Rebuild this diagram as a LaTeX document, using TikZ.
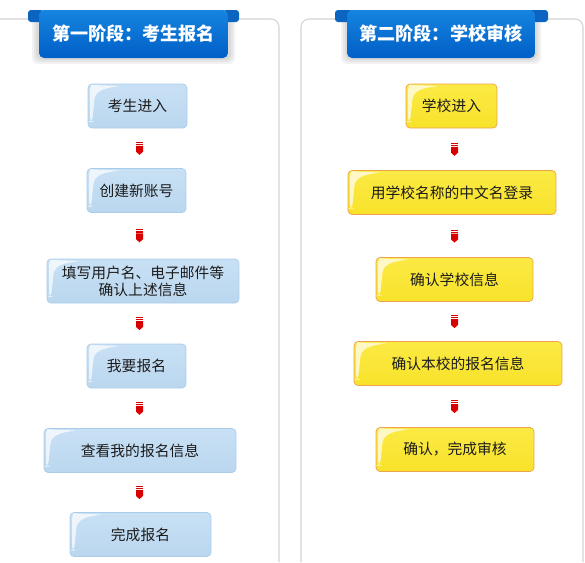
\documentclass[tikz,border=0pt]{standalone}
\usepackage{fontspec}
\newfontfamily\cjk{Noto Sans CJK SC}
\usetikzlibrary{positioning}

\definecolor{panelgray}{HTML}{D2D2D2}
\definecolor{ribbontop}{HTML}{1684E0}
\definecolor{ribbonbot}{HTML}{005FC6}
\definecolor{ribbontab}{HTML}{0A64C0}
\definecolor{bluefill}{HTML}{BAD7EF}
\definecolor{bluefilltop}{HTML}{C8E0F4}
\definecolor{blueline}{HTML}{A9CCEA}
\definecolor{yellowfill}{HTML}{F8E22A}
\definecolor{yellowfilltop}{HTML}{FBEA45}
\definecolor{yellowline}{HTML}{EDA24C}
\definecolor{markred}{HTML}{D80000}
\definecolor{boxtext}{HTML}{1C1C1C}

\tikzset{
    gloss/.style={path picture={
        \coordinate (g) at (path picture bounding box.north west);
        \fill[white, opacity=.7] ([shift={(2,3)}]g)
            .. controls ([shift={(3,1)}]g) .. ([shift={(34,2)}]g)
            .. controls ([shift={(14,4)}]g) and ([shift={(7,8)}]g) .. ([shift={(6,20)}]g)
            -- ([shift={(4,38)}]g) -- ([shift={(2,38)}]g) -- cycle;
    }},
    downmark/.pic={
        \fill[markred] (-3.5,-6.5) rectangle (3.5,-5.3);
        \fill[markred] (-3.5,-4.3) rectangle (3.5,-3.1);
        \fill[markred] (-3.5,-2.3) -- (3.5,-2.3) -- (3.5,3.5) -- (0,6.5) -- (-3.5,3.5) -- cycle;
    }
}

\begin{document}
\begin{tikzpicture}[x=0.02cm, y=-0.02cm,
        bluebox/.style={rectangle, rounded corners=0.08cm, draw=blueline, top color=bluefilltop, bottom color=bluefill,
            minimum height=0.88cm, inner sep=0pt, align=center, text=boxtext,
            font=\cjk\fontsize{8.4}{9.6}\selectfont, gloss},
        yellowbox/.style={rectangle, rounded corners=0.08cm, draw=yellowline, top color=yellowfilltop, bottom color=yellowfill,
            minimum height=0.88cm, inner sep=0pt, align=center, text=boxtext,
            font=\cjk\fontsize{8.4}{9.6}\selectfont, gloss},
        ribbon/.style={rectangle, rounded corners=0.1cm, top color=ribbontop, bottom color=ribbonbot,
            minimum width=3.78cm, minimum height=0.96cm, inner sep=0pt, text=white,
            font=\cjk\bfseries\fontsize{10.3}{12}\selectfont},
        panel/.style={draw=panelgray, line width=0.6pt, rounded corners=0.16cm}
    ]
    \useasboundingbox (0,0) rectangle (585,562);

    % panels
    \draw[panel] (0,19) -- (279,19) -- (279,562);
    \draw[panel] (301,562) -- (301,19) -- (583,19) -- (583,562);

    % ribbon shadows
    \foreach \o in {2,4,6} {
        \fill[black, opacity=.05, rounded corners=0.12cm] (38-\o,14) rectangle (229+\o,58+\o);
        \fill[black, opacity=.05, rounded corners=0.12cm] (347-\o,14) rectangle (535+\o,58+\o);
    }

    % ribbons
    \fill[ribbontab, rounded corners=0.06cm] (28,10) rectangle (44,22);
    \fill[ribbontab, rounded corners=0.06cm] (223,10) rectangle (239,22);
    \fill[ribbontab, rounded corners=0.06cm] (335,10) rectangle (353,22);
    \fill[ribbontab, rounded corners=0.06cm] (529,10) rectangle (548,22);
    \node[ribbon] (stage1) at (133.5,34) {第一阶段：考生报名};
    \node[ribbon, minimum width=3.76cm] (stage2) at (441,34) {第二阶段：学校审核};

    % columns of the red marks
    \coordinate (colL) at (139.5,0);
    \coordinate (colR) at (454.5,0);

    % Left flow - candidate registration
    \node[bluebox, minimum width=1.98cm] (k1) at (137.5,106) {考生进入};
    \node[bluebox, minimum width=1.98cm] (k2) at (136.5,190.5) {创建新账号};
    \node[bluebox, minimum width=3.84cm] (k3) at (143,281) {填写用户名、电子邮件等\\确认上述信息};
    \node[bluebox, minimum width=1.98cm] (k4) at (136.5,366) {我要报名};
    \node[bluebox, minimum width=3.84cm] (k5) at (140,450.5) {查看我的报名信息};
    \node[bluebox, minimum width=2.82cm] (k6) at (140.5,534.5) {完成报名};

    % Right flow - school review
    \node[yellowbox, minimum width=1.82cm] (s1) at (451.5,106) {学校进入};
    \node[yellowbox, minimum width=4.16cm] (s2) at (452,192.5) {用学校名称的中文名登录};
    \node[yellowbox, minimum width=3.14cm] (s3) at (454.5,279.5) {确认学校信息};
    \node[yellowbox, minimum width=4.16cm] (s4) at (458,363.5) {确认本校的报名信息};
    \node[yellowbox, minimum width=3.16cm] (s5) at (455,449.5) {确认，完成审核};

    % red marks between the steps
    \foreach \a/\b in {k1/k2, k2/k3, k3/k4, k4/k5, k5/k6} {
        \path (\a.south) -- (\b.north) coordinate[midway] (\a\b);
        \pic at (\a\b -| colL) {downmark};
    }
    \foreach \a/\b in {s1/s2, s2/s3, s3/s4, s4/s5} {
        \path (\a.south) -- (\b.north) coordinate[midway] (\a\b);
        \pic at (\a\b -| colR) {downmark};
    }
\end{tikzpicture}
\end{document}
